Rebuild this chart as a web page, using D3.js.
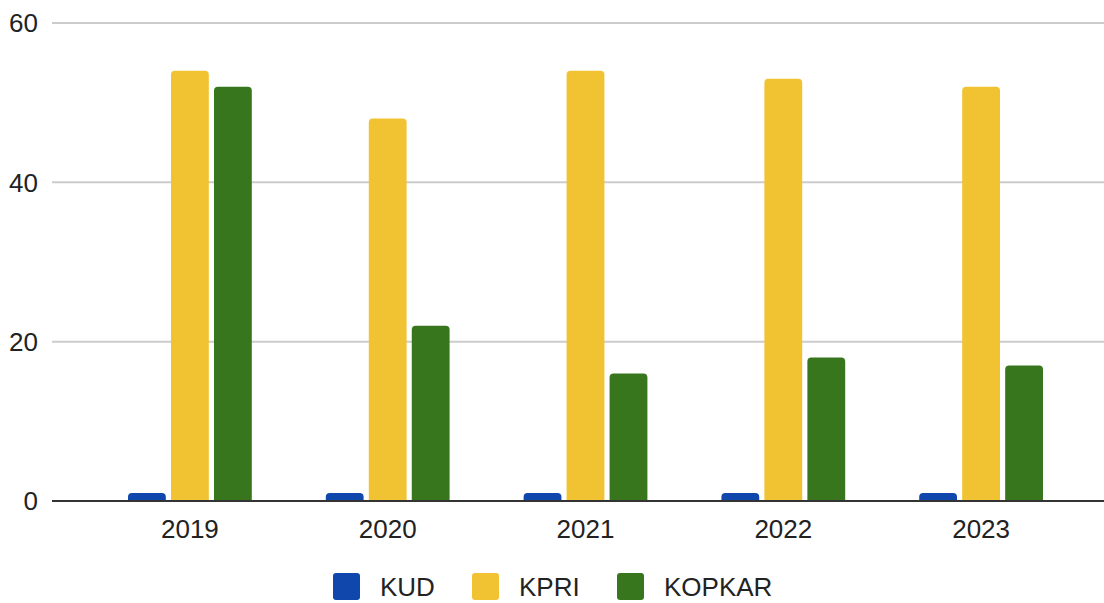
<!DOCTYPE html>
<html>
<head>
<meta charset="utf-8">
<script src="https://cdn.jsdelivr.net/npm/d3@7"></script>
<style>
  body { margin: 0; background: #fff; }
  text { font-family: "Liberation Sans", Arial, sans-serif; fill: #222; }
</style>
</head>
<body>
<script>
var years = ["2019", "2020", "2021", "2022", "2023"];
var seriesNames = ["KUD", "KPRI", "KOPKAR"];
var kud = [1, 1, 1, 1, 1];
var kpri = [54, 48, 54, 53, 52];
var kopkar = [52, 22, 16, 18, 17];
var yTicks = [0, 20, 40, 60];
var colors = ["#1047ad", "#f1c232", "#38761d"];

var width = 1104, height = 603;
var values = [kud, kpri, kopkar];

var svg = d3.select("body").append("svg")
    .attr("width", width)
    .attr("height", height);

var y = d3.scaleLinear().domain([0, 60]).range([501, 23]);

var x0 = d3.scaleBand().domain(years).range([91, 1080]).paddingInner(0).paddingOuter(0);
var x1 = d3.scaleBand().domain(seriesNames).range([37, x0.bandwidth() - 37]).paddingInner(0.12);

// gridlines
svg.append("g").selectAll("line")
    .data(yTicks.filter(function(d) { return d > 0; }))
  .enter().append("line")
    .attr("x1", 52).attr("x2", width)
    .attr("y1", function(d) { return y(d); })
    .attr("y2", function(d) { return y(d); })
    .style("stroke", "#cccccc")
    .style("stroke-width", 2);

// y labels
svg.append("g").selectAll("text")
    .data(yTicks)
  .enter().append("text")
    .attr("x", 38)
    .attr("y", function(d) { return y(d); })
    .attr("dy", "0.36em")
    .attr("text-anchor", "end")
    .style("font-size", "26px")
    .text(function(d) { return d; });

// bars with rounded tops
function barPath(x, w, yTop, yBot, r) {
  r = Math.min(r, (yBot - yTop), w / 2);
  return "M" + x + "," + yBot +
    "V" + (yTop + r) +
    "Q" + x + "," + yTop + " " + (x + r) + "," + yTop +
    "H" + (x + w - r) +
    "Q" + (x + w) + "," + yTop + " " + (x + w) + "," + (yTop + r) +
    "V" + yBot + "Z";
}

var groups = svg.append("g").selectAll("g")
    .data(years)
  .enter().append("g")
    .attr("transform", function(d) { return "translate(" + x0(d) + ",0)"; });

groups.selectAll("path")
    .data(function(d, i) {
      return seriesNames.map(function(s, j) { return {key: s, value: values[j][i], c: colors[j]}; });
    })
  .enter().append("path")
    .attr("d", function(d) { return barPath(x1(d.key), x1.bandwidth(), y(d.value), y(0), 4); })
    .style("fill", function(d) { return d.c; });

// baseline
svg.append("line")
    .attr("x1", 52).attr("x2", width)
    .attr("y1", y(0)).attr("y2", y(0))
    .style("stroke", "#333333")
    .style("stroke-width", 2);

// x labels
svg.append("g").selectAll("text")
    .data(years)
  .enter().append("text")
    .attr("x", function(d) { return x0(d) + x0.bandwidth() / 2; })
    .attr("y", 538)
    .attr("text-anchor", "middle")
    .style("font-size", "26px")
    .text(function(d) { return d; });

// legend
var legendX = [333, 472, 617];
var legend = svg.append("g").selectAll("g")
    .data(seriesNames)
  .enter().append("g")
    .attr("transform", function(d, i) { return "translate(" + legendX[i] + ",573)"; });

legend.append("rect")
    .attr("width", 27).attr("height", 27)
    .attr("rx", 3)
    .style("fill", function(d, i) { return colors[i]; });

legend.append("text")
    .attr("x", 47)
    .attr("y", 23)
    .style("font-size", "26px")
    .text(function(d) { return d; });
</script>
</body>
</html>
